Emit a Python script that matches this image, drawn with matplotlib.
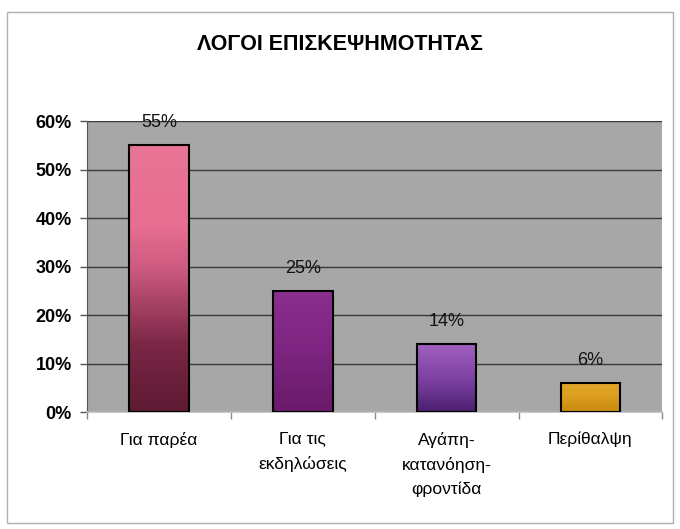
import matplotlib
matplotlib.use("Agg")
import matplotlib.pyplot as plt
import numpy as np
from matplotlib.colors import LinearSegmentedColormap
from matplotlib.patches import Rectangle

categories = ["Για παρέα", "Για τις\nεκδηλώσεις", "Αγάπη-\nκατανόηση-\nφροντίδα", "Περίθαλψη"]
values = [55, 25, 14, 6]
value_labels = ["55%", "25%", "14%", "6%"]
yticks = [0, 10, 20, 30, 40, 50, 60]
ytick_labels = ["0%", "10%", "20%", "30%", "40%", "50%", "60%"]
title = "ΛΟΓΟΙ ΕΠΙΣΚΕΨΗΜΟΤΗΤΑΣ"

# gradient stops per bar: (position from bottom 0..1, color)
gradients = [
    [(0.0, "#5e1a33"), (0.25, "#7a2645"), (0.55, "#d05c82"), (0.7, "#e66e91"), (1.0, "#ea7596")],
    [(0.0, "#6a1a6a"), (0.5, "#7d2580"), (1.0, "#8c2e8e")],
    [(0.0, "#4a1f6e"), (0.45, "#7a3fa0"), (1.0, "#a060c0")],
    [(0.0, "#c88a10"), (0.6, "#dea020"), (1.0, "#e0a62a")],
]

plt.rcParams['font.family'] = ['Liberation Sans', 'DejaVu Sans']

fig = plt.figure(figsize=(6.8, 5.29), dpi=100)
fig.patch.set_facecolor("white")
ax = fig.add_axes([0.128, 0.221, 0.846, 0.550])
ax.set_facecolor("#a7a7a7")

x = np.arange(len(categories))
bars = ax.bar(x, values, width=0.415, color="none", edgecolor="black", linewidth=1.5, zorder=4)

for b, stops in zip(bars, gradients):
    cmap = LinearSegmentedColormap.from_list("g", stops)
    grad = np.linspace(0, 1, 256).reshape(-1, 1)
    bx, by = b.get_x(), b.get_y()
    im = ax.imshow(grad, cmap=cmap, origin="lower", aspect="auto",
                   extent=(bx, bx + b.get_width(), by, by + b.get_height()), zorder=3)
    im.set_clip_path(b)

for b, lab in zip(bars, value_labels):
    ax.text(b.get_x() + b.get_width() / 2, b.get_height() + 2.9, lab,
            ha="center", va="bottom", fontsize=13, color="#111111", zorder=5)

ax.set_xlim(-0.5, len(categories) - 0.5)
ax.set_ylim(0, 60)
ax.set_yticks(yticks)
ax.set_yticklabels(ytick_labels, fontsize=13, fontweight="bold")
ax.yaxis.grid(True, color="#3a3a3a", linewidth=1.0, zorder=1)
ax.set_axisbelow(True)

ax.set_xticks(x)
ax.set_xticklabels(categories, fontsize=12.5, linespacing=1.7, va="top")
ax.tick_params(axis="x", length=0, pad=14)
ax.set_xticks(np.arange(-0.5, len(categories), 1.0), minor=True)
ax.tick_params(axis="x", which="minor", length=5, color="#888888", width=1)
ax.tick_params(axis="y", length=5, color="#555555", width=1, pad=6)

for s in ["top", "right"]:
    ax.spines[s].set_visible(False)
ax.spines["left"].set_color("#555555")
ax.spines["bottom"].set_color("#bbbbbb")
ax.spines["bottom"].set_linewidth(1.2)

fig.text(0.5, 0.915, title, ha="center", va="center", fontsize=15.5, fontweight="bold")

fig.patches.append(Rectangle((0.010, 0.012), 0.980, 0.965, transform=fig.transFigure,
                             fill=False, edgecolor="#b0b0b0", linewidth=1.0))

fig.savefig("out.png", dpi=100)
